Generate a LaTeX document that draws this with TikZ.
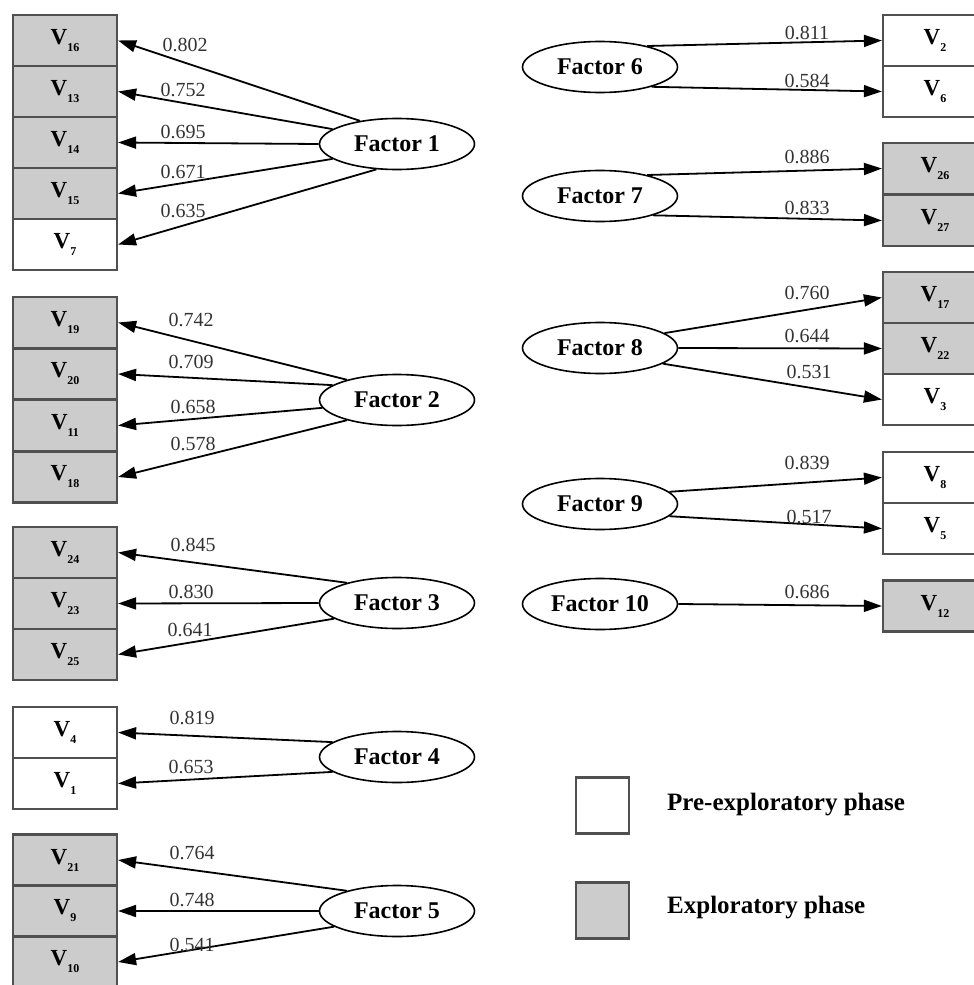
\documentclass[tikz,border=0pt]{standalone}
\usepackage{fontspec}
\setmainfont{Liberation Serif}
\usetikzlibrary{shapes.geometric,arrows.meta}
\definecolor{boxgray}{RGB}{204,204,204}
\definecolor{edgegray}{RGB}{80,80,80}
\newcommand\vlab[1]{\fontsize{23}{23}\selectfont\textbf{V}\raisebox{-7pt}{\fontsize{12}{12}\selectfont\textbf{#1}}}
\tikzset{
  vbox/.style={draw=edgegray, line width=2.2pt, minimum width=104pt, minimum height=51pt, inner sep=0pt, fill=white},
  gbox/.style={vbox, fill=boxgray},
  factor/.style={ellipse, draw=black, line width=1.6pt, minimum width=155pt, minimum height=51pt, inner sep=0pt, font=\fontsize{24}{24}\selectfont\bfseries},
  arr/.style={line width=1.8pt, -{Triangle[length=18pt,width=12pt]}},
  lbl/.style={font=\fontsize{20}{20}\selectfont, text=black!80, inner sep=0pt},
  legtext/.style={font=\fontsize{25}{25}\selectfont\bfseries, anchor=west, inner sep=0pt}
}
\begin{document}
\begin{tikzpicture}[x=1pt,y=-1pt]
\useasboundingbox (0,0) rectangle (974,985);
% left boxes
\node[gbox] (v16) at (65,40.5) {\vlab{16}};
\node[gbox] (v13) at (65,91.5) {\vlab{13}};
\node[gbox] (v14) at (65,142.5) {\vlab{14}};
\node[gbox] (v15) at (65,193.5) {\vlab{15}};
\node[vbox] (v7) at (65,244.5) {\vlab{7}};
\node[gbox] (v19) at (65,322.5) {\vlab{19}};
\node[gbox] (v20) at (65,374) {\vlab{20}};
\node[gbox] (v11) at (65,425.5) {\vlab{11}};
\node[gbox] (v18) at (65,477) {\vlab{18}};
\node[gbox] (v24) at (65,552.5) {\vlab{24}};
\node[gbox] (v23) at (65,603.5) {\vlab{23}};
\node[gbox] (v25) at (65,654.5) {\vlab{25}};
\node[vbox] (v4) at (65,732.5) {\vlab{4}};
\node[vbox] (v1) at (65,783.5) {\vlab{1}};
\node[gbox] (v21) at (65,860) {\vlab{21}};
\node[gbox] (v9) at (65,911) {\vlab{9}};
\node[gbox] (v10) at (65,962) {\vlab{10}};
% right boxes
\node[vbox] (v2) at (935,40.5) {\vlab{2}};
\node[vbox] (v6) at (935,91.5) {\vlab{6}};
\node[gbox] (v26) at (935,168.5) {\vlab{26}};
\node[gbox] (v27) at (935,220.5) {\vlab{27}};
\node[gbox] (v17) at (935,297.5) {\vlab{17}};
\node[gbox] (v22) at (935,348.5) {\vlab{22}};
\node[vbox] (v3) at (935,399.5) {\vlab{3}};
\node[vbox] (v8) at (935,477.5) {\vlab{8}};
\node[vbox] (v5) at (935,528.5) {\vlab{5}};
\node[gbox] (v12) at (935,606) {\vlab{12}};
% factors
\node[factor] (f1) at (397,144) {Factor 1};
\node[factor] (f2) at (397,400) {Factor 2};
\node[factor] (f3) at (397,603) {Factor 3};
\node[factor] (f4) at (397,757) {Factor 4};
\node[factor] (f5) at (397,911) {Factor 5};
\node[factor] (f6) at (600,67) {Factor 6};
\node[factor] (f7) at (600,196) {Factor 7};
\node[factor] (f8) at (600,348) {Factor 8};
\node[factor] (f9) at (600,504) {Factor 9};
\node[factor] (f10) at (600,604) {Factor 10};
% arrows left
\draw[arr] (f1.148) -- (v16.east);
\draw[arr] (f1.167) -- (v13.east);
\draw[arr] (f1.180) -- (v14.east);
\draw[arr] (f1.193) -- (v15.east);
\draw[arr] (f1.231) -- (v7.east);
\draw[arr] (f2.158) -- (v19.east);
\draw[arr] (f2.167) -- (v20.east);
\draw[arr] (f2.186) -- (v11.east);
\draw[arr] (f2.202) -- (v18.east);
\draw[arr] (f3.158) -- (v24.east);
\draw[arr] (f3.180) -- (v23.east);
\draw[arr] (f3.194) -- (v25.east);
\draw[arr] (f4.167) -- (v4.east);
\draw[arr] (f4.193) -- (v1.east);
\draw[arr] (f5.158) -- (v21.east);
\draw[arr] (f5.180) -- (v9.east);
\draw[arr] (f5.194) -- (v10.east);
% arrows right
\draw[arr] (f6.24) -- (v2.west);
\draw[arr] (f6.-21) -- (v6.west);
\draw[arr] (f7.24) -- (v26.west);
\draw[arr] (f7.-20) -- (v27.west);
\draw[arr] (f8.13) -- (v17.west);
\draw[arr] (f8.0) -- (v22.west);
\draw[arr] (f8.-14) -- (v3.west);
\draw[arr] (f9.10) -- (v8.west);
\draw[arr] (f9.-10) -- (v5.west);
\draw[arr] (f10.0) -- (v12.west);
% labels
\node[lbl] (l1) at (185,45) {0.802};
\node[lbl] (l2) at (183,90) {0.752};
\node[lbl] (l3) at (183,132) {0.695};
\node[lbl] (l4) at (183,172) {0.671};
\node[lbl] (l5) at (183,211) {0.635};
\node[lbl] (l6) at (191,320) {0.742};
\node[lbl] (l7) at (191,362) {0.709};
\node[lbl] (l8) at (193,407) {0.658};
\node[lbl] (l9) at (193,444) {0.578};
\node[lbl] (l10) at (193,545) {0.845};
\node[lbl] (l11) at (191,592) {0.830};
\node[lbl] (l12) at (190,630) {0.641};
\node[lbl] (l13) at (192,718) {0.819};
\node[lbl] (l14) at (191,767) {0.653};
\node[lbl] (l15) at (192,853) {0.764};
\node[lbl] (l16) at (192,900) {0.748};
\node[lbl] (l17) at (192,945) {0.541};
\node[lbl] (r1) at (807,33) {0.811};
\node[lbl] (r2) at (807,81) {0.584};
\node[lbl] (r3) at (807,157) {0.886};
\node[lbl] (r4) at (807,208) {0.833};
\node[lbl] (r5) at (807,293) {0.760};
\node[lbl] (r6) at (807,336) {0.644};
\node[lbl] (r7) at (809,372) {0.531};
\node[lbl] (r8) at (807,463) {0.839};
\node[lbl] (r9) at (809,517) {0.517};
\node[lbl] (r10) at (807,592) {0.686};
% legend
\node[vbox, minimum width=53pt, minimum height=56pt] (lw) at (602.5,805.5) {};
\node[gbox, minimum width=53pt, minimum height=56pt] (lg) at (602.5,910.5) {};
\node[legtext] (tw) at (667,805) {Pre-exploratory phase};
\node[legtext] (tg) at (667,908) {Exploratory phase};
\end{tikzpicture}
\end{document}
